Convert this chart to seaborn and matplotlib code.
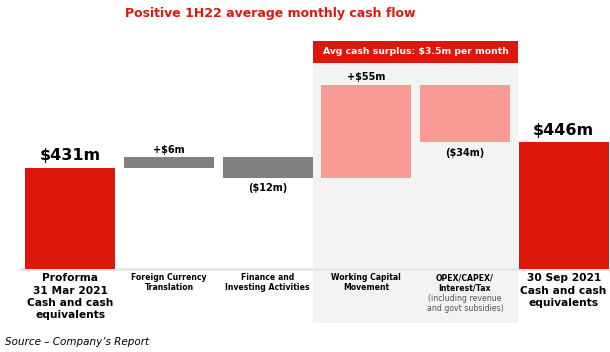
import matplotlib
matplotlib.use("Agg")
import matplotlib.pyplot as plt
import matplotlib.patches as mpatches
import seaborn as sns
import pandas as pd
import numpy as np

# Datos del puente de caja (US$ m)
etiquetas = [
    "Proforma\n31 Mar 2021\nCash and cash\nequivalents",
    "Foreign Currency\nTranslation",
    "Finance and\nInvesting Activities",
    "Working Capital\nMovement",
    "OPEX/CAPEX/\nInterest/Tax",
    "30 Sep 2021\nCash and cash\nequivalents",
]
saldo_inicial = 431
movimientos = [6, -12, 55, -34]
saldo_final = 446
textos_valor = ["$431m", "+$6m", "($12m)", "+$55m", "($34m)", "$446m"]
nota_opex = "(including revenue\nand govt subsidies)"
titulo = "Positive 1H22 average monthly cash flow"
cabecera = "Avg cash surplus: $3.5m per month"
fuente = "Source \u2013 Company\u2019s Report"

ROJO = "#DE170C"
GRIS = "#808080"
ROSA = "#F99A94"
colores = [ROJO, GRIS, GRIS, ROSA, ROSA, ROJO]

# Cálculo de la cascada
acumulado = saldo_inicial + np.cumsum([0] + movimientos)
bases = [0] + list(acumulado[:-1]) + [0]
alturas = [saldo_inicial] + movimientos + [saldo_final]
df = pd.DataFrame({"paso": range(6), "altura": alturas, "base": bases})

sns.set_theme(style="white")
plt.rcParams["font.family"] = ["DejaVu Sans"]

fig = plt.figure(figsize=(6.1, 3.52), dpi=100)
ax = fig.add_axes([21 / 610, 83 / 352, 589 / 610, 229 / 352])

ax.bar(df["paso"], df["altura"], bottom=df["base"], width=0.91,
       color=colores, edgecolor="none", linewidth=0, zorder=3)

ax.set_xlim(-0.5, 5.47)
ax.set_ylim(371, 506.5)

# Panel sombreado del superávit medio
panel = mpatches.Rectangle((2.46, -0.236), 2.08, 1.232, transform=ax.get_xaxis_transform(),
                           facecolor="#F3F3F3", edgecolor="none", clip_on=False, zorder=0)
ax.add_patch(panel)
caja = mpatches.Rectangle((2.46, 0.90), 2.08, 0.096, transform=ax.get_xaxis_transform(),
                          facecolor=ROJO, edgecolor="none", clip_on=False, zorder=1)
ax.add_patch(caja)
ax.text(3.5, 0.948, cabecera, transform=ax.get_xaxis_transform(), ha="center", va="center",
        color="white", fontsize=6.7, fontweight="bold", zorder=4)

# Etiquetas de valor
for i, (b, h, t) in enumerate(zip(bases, alturas, textos_valor)):
    grande = i in (0, 5)
    if h >= 0:
        ax.annotate(t, (i, b + h), xytext=(0, 3 if grande else 2), textcoords="offset points",
                    ha="center", va="bottom", fontweight="bold",
                    fontsize=11.5 if grande else 7, color="black", zorder=5)
    else:
        ax.annotate(t, (i, b + h), xytext=(0, -4), textcoords="offset points",
                    ha="center", va="top", fontweight="bold", fontsize=7,
                    color="black", zorder=5)

# Ejes
for lado in ["top", "right", "left"]:
    ax.spines[lado].set_visible(False)
ax.spines["bottom"].set_color("#E4E4E4")
ax.spines["bottom"].set_linewidth(1.8)
ax.set_yticks([])
ax.set_xticks(range(6))
ax.set_xticklabels(etiquetas)
ax.tick_params(axis="x", length=0, pad=3)
for i, lbl in enumerate(ax.get_xticklabels()):
    lbl.set_fontweight("bold")
    lbl.set_color("black")
    if i in (0, 5):
        lbl.set_fontsize(7.7)
        lbl.set_linespacing(1.3)
    else:
        lbl.set_fontsize(5.6)
        lbl.set_linespacing(1.15)

ax.text(4, -0.11, nota_opex, transform=ax.get_xaxis_transform(), ha="center", va="top",
        fontsize=5.6, color="#555555", linespacing=1.15)

fig.text(270 / 610, 1 - 13 / 352, titulo, ha="center", va="center", color=ROJO,
         fontsize=9, fontweight="bold")
fig.text(5 / 610, 1 - 342 / 352, fuente, ha="left", va="center", fontsize=7.5,
         style="italic", color="black")

fig.savefig("out.png", dpi=100)
